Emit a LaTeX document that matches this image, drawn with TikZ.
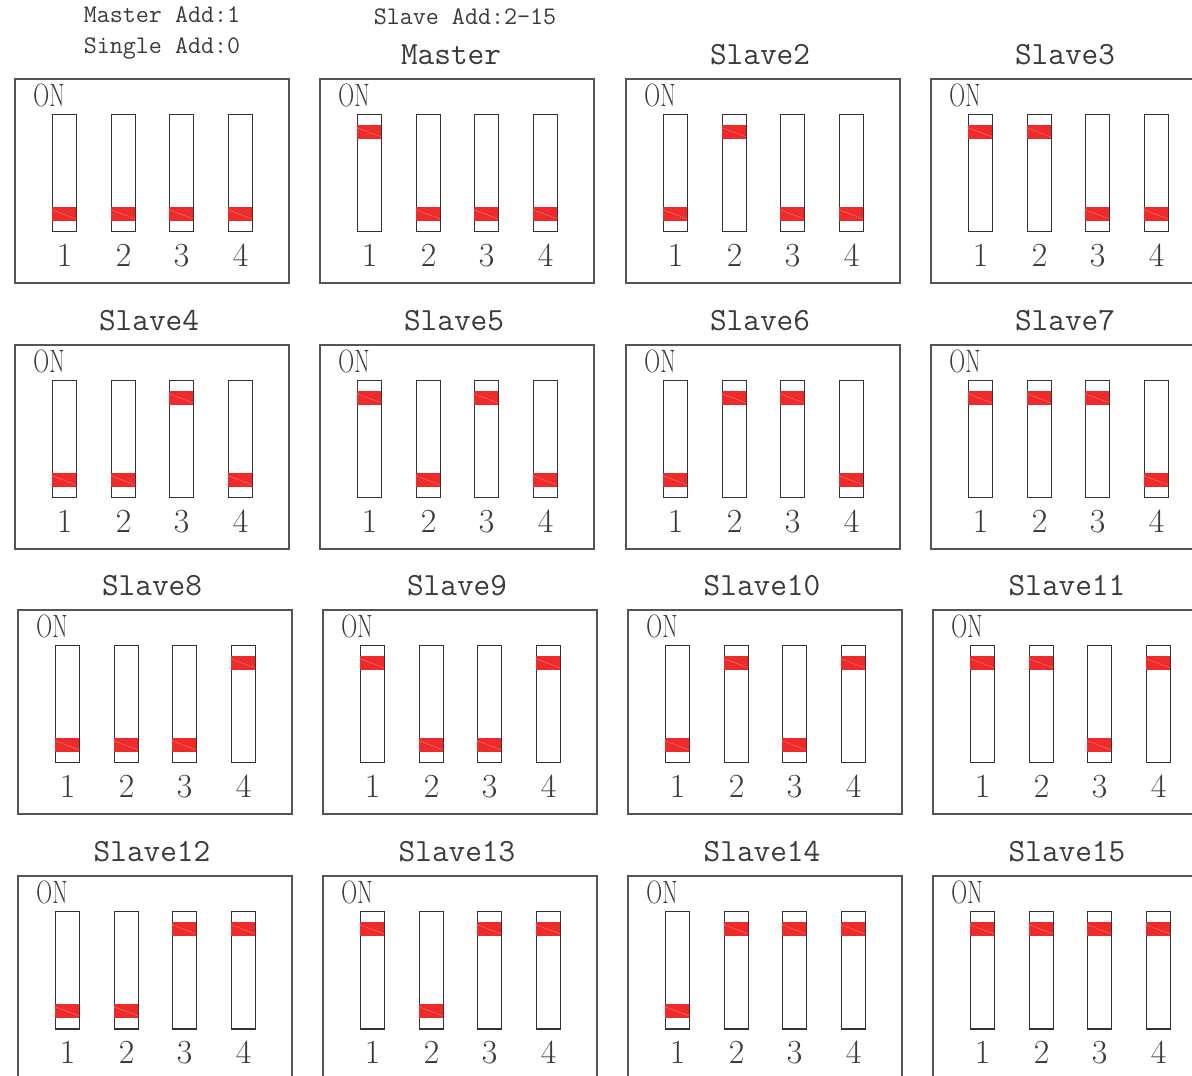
\documentclass[tikz,border=0pt]{standalone}
\usepackage{graphicx}
\usetikzlibrary{positioning}

\definecolor{boxgray}{HTML}{555555}
\definecolor{linegray}{HTML}{333333}
\definecolor{textgray}{HTML}{3A3A3A}
\definecolor{knobred}{HTML}{EE2B2B}

\begin{document}
\begin{tikzpicture}[
    x=0.025cm, y=-0.025cm,
    panel/.style={
        draw=boxgray,
        line width=1.3pt,
        minimum width=6.85cm,
        minimum height=5.1cm,
        inner sep=0pt
    },
    switchbox/.style={
        draw=linegray,
        line width=0.9pt,
        fill=white,
        minimum width=0.6cm,
        minimum height=2.93cm,
        inner sep=0pt
    },
    title/.style={
        text=textgray,
        font=\ttfamily\fontsize{23}{26}\selectfont
    },
    note/.style={
        text=textgray,
        align=center,
        font=\ttfamily\fontsize{18}{22.5}\selectfont
    },
    onlabel/.style={
        text=textgray,
        inner sep=0pt,
        font=\fontsize{23}{25}\selectfont
    },
    numlabel/.style={
        text=textgray,
        inner sep=0pt,
        font=\fontsize{24}{26}\selectfont
    },
    knob/.style={fill=knobred},
    knobline/.style={draw=knobred!55!white, line width=0.2pt}
]

\clip (0,0) rectangle (1192,1076);
\fill[white] (0,0) rectangle (1192,1076);

% notes over the first two panels
\node[note] (singlenote) at (162,33) {Master Add:1\\Single Add:0};
\node[note] (slavenote) at (465,17) {Slave Add:2-15};

\foreach \i in {0,...,15} {
    \pgfmathtruncatemacro\row{int(\i/4)}
    \pgfmathtruncatemacro\col{mod(\i,4)}
    \pgfmathtruncatemacro\bx{round(14+305.33*\col+2.5*(\row>1))}
    \pgfmathtruncatemacro\by{round(78+265.67*\row)}

    \node[panel, anchor=north west] (panel\i) at (\bx,\by) {};
    \node[onlabel] (on\i) at (\bx+35,\by+17) {\scalebox{0.68}[1]{ON}};

    \ifnum\i=1
        \node[title] (title\i) at (\bx+132,\by-23) {Master};
    \else\ifnum\i>1
        \node[title] (title\i) at (\bx+135,\by-23) {Slave\i};
    \fi\fi

    \foreach \k in {1,...,4} {
        \pgfmathtruncatemacro\bit{mod(floor(\i/pow(2,\k-1)),2)}
        \pgfmathtruncatemacro\ky{\bit==1 ? 11 : 93}
        \pgfmathtruncatemacro\sx{round(\bx+38+58.7*\k-58.7)}
        \node[switchbox, anchor=north west] (sw\i-\k) at (\sx,\by+36) {};
        \fill[knob] ([yshift=-\ky*0.025cm]sw\i-\k.north west) rectangle ++(24,14);
        \draw[knobline] ([yshift=-\ky*0.025cm-0.07cm]sw\i-\k.north west) -- ++(24,9);
        \node[numlabel] (num\i-\k) at ([yshift=-0.58cm]sw\i-\k.south) {\k};
    }
}

\end{tikzpicture}
\end{document}
